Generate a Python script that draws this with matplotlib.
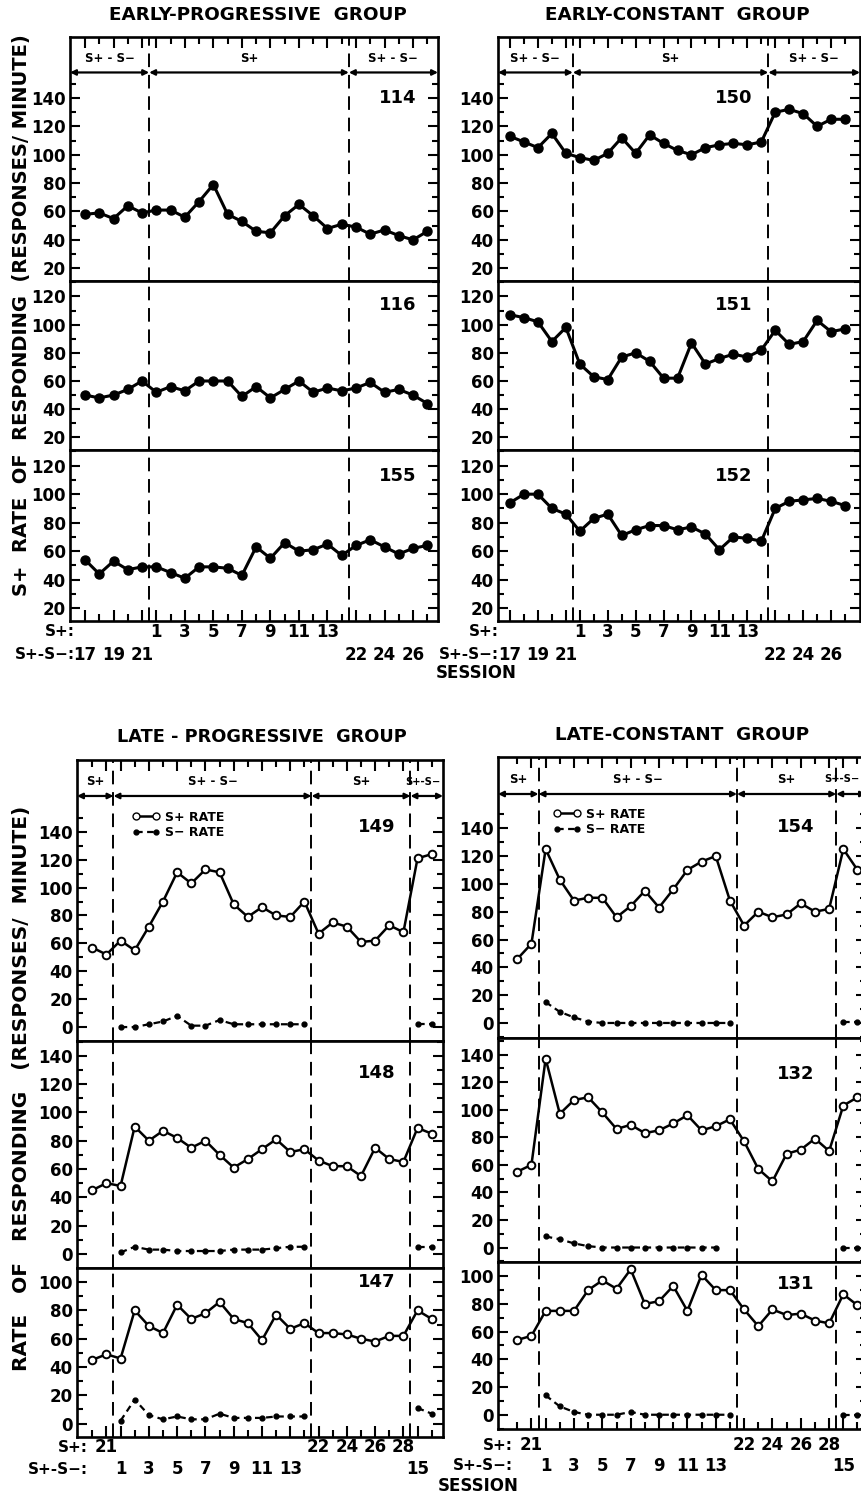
import numpy as np
import matplotlib.pyplot as plt
import matplotlib.transforms as mtransforms
from matplotlib.lines import Line2D
from matplotlib.ticker import FixedLocator

W, H = 862, 1496
plt.rcParams['font.family'] = ['DejaVu Sans']
plt.rcParams['font.weight'] = 'bold'

# early groups: S+-S- sessions 17-21, S+ sessions 1-14, back to S+-S- 22-27
early_sessions = [17, 18, 19, 20, 21, 1, 2, 3, 4, 5, 6, 7, 8, 9, 10, 11, 12, 13, 14,
                  22, 23, 24, 25, 26, 27]
early_phases = ["mix"] * 5 + ["sp"] * 14 + ["mix"] * 6
early_phase_labels = ["S+ - S−", "S+", "S+ - S−"]
early_sp_ticks = [1, 3, 5, 7, 9, 11, 13]
early_mix_ticks = [17, 19, 21, 22, 24, 26]

r114 = [58, 59, 55, 64, 59, 61, 61, 56, 67, 79, 58, 53, 46, 45, 57, 65, 57, 48, 51, 49, 44, 47, 43, 40, 46]
r116 = [50, 48, 50, 54, 60, 52, 56, 53, 60, 60, 60, 49, 56, 48, 54, 60, 52, 55, 53, 55, 59, 52, 54, 50, 44]
r155 = [54, 44, 53, 47, 49, 49, 45, 41, 49, 49, 48, 43, 63, 55, 66, 60, 61, 65, 57, 64, 68, 63, 58, 62, 64]
r150 = [113, 109, 105, 115, 101, 98, 96, 101, 112, 101, 114, 108, 103, 100, 105, 107, 108, 107, 109,
        130, 132, 129, 120, 125, 125]
r151 = [107, 105, 102, 88, 98, 72, 63, 61, 77, 80, 74, 62, 62, 87, 72, 76, 79, 77, 82, 96, 86, 88, 103, 95, 97]
r152 = [94, 100, 100, 90, 86, 74, 83, 86, 71, 75, 78, 78, 75, 77, 72, 61, 70, 69, 67, 90, 95, 96, 97, 95, 92]

# late groups: S+ 20-21, S+-S- 1-14, S+ 22-28, S+-S- 15-16
late_sessions = [20, 21, 1, 2, 3, 4, 5, 6, 7, 8, 9, 10, 11, 12, 13, 14,
                 22, 23, 24, 25, 26, 27, 28, 15, 16]
late_phases = ["sp"] * 2 + ["mix"] * 14 + ["sp"] * 7 + ["mix"] * 2
late_phase_labels = ["S+", "S+ - S−", "S+", "S+-S−"]
late_sp_ticks = [21, 22, 24, 26, 28]
late_mix_ticks = [1, 3, 5, 7, 9, 11, 13, 15]

# S+ rate for every session, S- rate only for the S+-S- sessions
p149 = [57, 52, 62, 55, 72, 90, 111, 103, 113, 111, 88, 79, 86, 80, 79, 90, 67, 75, 72, 61, 62, 73, 68, 121, 124]
m149 = [0, 0, 2, 4, 8, 1, 1, 5, 2, 2, 2, 2, 2, 2, 2, 2]
p148 = [45, 50, 48, 90, 80, 87, 82, 75, 80, 70, 61, 67, 74, 81, 72, 74, 66, 62, 62, 55, 75, 67, 65, 89, 85]
m148 = [1, 5, 3, 3, 2, 2, 2, 2, 3, 3, 3, 4, 5, 5, 5, 5]
p147 = [45, 49, 46, 80, 69, 64, 84, 74, 78, 86, 74, 71, 59, 77, 67, 71, 64, 64, 63, 60, 58, 62, 62, 80, 74]
m147 = [2, 17, 6, 3, 5, 3, 3, 7, 4, 4, 4, 5, 5, 5, 11, 7]

p154 = [46, 57, 125, 103, 88, 90, 90, 76, 84, 95, 83, 96, 110, 116, 120, 88, 70, 80, 76, 78, 86, 80, 82, 125, 110]
m154 = [15, 8, 4, 1, 0, 0, 0, 0, 0, 0, 0, 0, 0, 0, 1, 1]
p132 = [55, 60, 137, 97, 107, 109, 98, 86, 89, 83, 85, 90, 96, 85, 88, 93, 77, 57, 48, 68, 71, 79, 70, 103, 109]
m132 = [8, 6, 3, 1, 0, 0, 0, 0, 0, 0, 0, 0, 0, np.nan, 0, 0]
p131 = [54, 57, 75, 75, 75, 90, 97, 91, 105, 80, 82, 93, 75, 101, 90, 90, 76, 64, 76, 72, 73, 68, 66, 87, 79]
m131 = [14, 6, 2, 0, 0, 0, 2, 0, 0, 0, 0, 0, 0, 0, 0, 0]


def px_axes(fig, x0, y0, x1, y1):
    return fig.add_axes([x0 / W, 1 - y1 / H, (x1 - x0) / W, (y1 - y0) / H])


def find_pos(sessions, phases, phase, label):
    return next(i for i, (s, p) in enumerate(zip(sessions, phases)) if s == label and p == phase)


def runs(idx):
    # split a list of indices into consecutive stretches
    out, cur = [], [idx[0]]
    for i in idx[1:]:
        if i == cur[-1] + 1:
            cur.append(i)
        else:
            out.append(cur)
            cur = [i]
    out.append(cur)
    return out


def draw_block(fig, xr, edges, xlim, ylims, yticks, sessions, phases, phase_labels,
               sp_ticks, mix_ticks, panels, id_pos, arrow_y, rows, late):
    n = len(sessions)
    x = np.arange(n)
    dividers = [i - 0.5 for i in range(1, n) if phases[i] != phases[i - 1]]
    bounds = [xlim[0]] + dividers + [xlim[1]]
    # data x of the last column still inside the figure
    visible_right = xlim[0] + (min(xr[1], W) - xr[0]) / (xr[1] - xr[0]) * (xlim[1] - xlim[0])

    sp_pos = [find_pos(sessions, phases, "sp", lab) for lab in sp_ticks]
    mix_pos = [find_pos(sessions, phases, "mix", lab) for lab in mix_ticks]
    major = sorted(sp_pos + mix_pos)
    minor = [i for i in x if i not in major]
    mix_idx = [i for i in x if phases[i] == "mix"]

    axes = []
    for k, panel in enumerate(panels):
        last = k == len(panels) - 1
        ax = px_axes(fig, xr[0], edges[k], xr[1], edges[k + 1])
        ax.set_xlim(xlim)
        ax.set_ylim(ylims[k])
        for s in ax.spines.values():
            s.set_linewidth(1.9)
        ax.yaxis.set_major_locator(FixedLocator(yticks[k]))
        lo = yticks[k][0]
        ax.yaxis.set_minor_locator(FixedLocator(
            [v for v in range(lo - 10, 151, 10) if v not in yticks[k] and ylims[k][0] < v < ylims[k][1]]))
        ax.tick_params(axis='y', which='both', direction='in', left=True, right=True,
                       width=1.5, labelsize=12, pad=3)
        ax.tick_params(axis='y', which='major', length=7)
        ax.tick_params(axis='y', which='minor', length=4)
        ax.xaxis.set_major_locator(FixedLocator(major))
        ax.xaxis.set_minor_locator(FixedLocator(minor))
        ax.tick_params(axis='x', which='both', direction='in', width=1.5,
                       top=(k == 0), bottom=last, labelbottom=False)
        ax.tick_params(axis='x', which='major', length=8)
        ax.tick_params(axis='x', which='minor', length=5)
        for d in dividers:
            ax.axvline(d, color='k', lw=1.4, ls=(0, (7, 4)))

        name = panel[0]
        if late:
            ax.plot(x, panel[1], color='k', lw=1.8, marker='o', ms=5.5,
                    mfc='white', mec='k', mew=1.4, zorder=3)
            mvals = dict(zip(mix_idx, panel[2]))
            for run in runs(mix_idx):
                ax.plot(run, [mvals[i] for i in run], color='k', lw=1.6,
                        ls=(0, (3, 2)), marker='o', ms=3.5, zorder=3)
        else:
            ax.plot(x, panel[1], color='k', lw=2.2, marker='o', ms=6.5, zorder=3)
        ax.text(id_pos[k][0], id_pos[k][1], name, transform=ax.transAxes,
                ha='center', va='center', fontsize=13, fontweight='bold')

        if last:
            # two rows of session numbers: S+ sessions and S+-S- sessions
            tr = mtransforms.blended_transform_factory(ax.transData, fig.transFigure)
            for labs, pos, y in [(sp_ticks, sp_pos, rows[0]), (mix_ticks, mix_pos, rows[1])]:
                for lab, p in zip(labs, pos):
                    ax.text(p, 1 - y / H, str(lab), transform=tr, ha='center', va='center',
                            fontsize=12, fontweight='bold', clip_on=False)
        axes.append(ax)

    # phase header on the first panel
    ax = axes[0]
    top = ylims[0][1]
    label_y = arrow_y + 0.4 * (top - arrow_y)
    for j, (a, b, lab) in enumerate(zip(bounds[:-1], bounds[1:], phase_labels)):
        ax.annotate('', xy=(b, arrow_y), xytext=(a, arrow_y),
                    arrowprops=dict(arrowstyle='<|-|>', lw=1.6, color='k',
                                    shrinkA=0, shrinkB=0, mutation_scale=8))
        if late and j == len(phase_labels) - 1:
            # narrow final phase: squeeze the label against the right edge
            ax.text(min(b, visible_right) - 0.15, label_y, lab, ha='right', va='center',
                    fontsize=7.2, fontweight='bold')
        else:
            ax.text((a + b) / 2, label_y, lab, ha='center', va='center',
                    fontsize=8.5, fontweight='bold')
    if late:
        handles = [Line2D([], [], color='k', lw=1.8, marker='o', ms=5, mfc='white', mec='k'),
                   Line2D([], [], color='k', lw=1.6, ls=(0, (3, 2)), marker='o', ms=3.5)]
        ax.legend(handles, ["S+ RATE", "S− RATE"], loc='upper left',
                  bbox_to_anchor=(0.12, 0.86), frameon=False, numpoints=2,
                  handlelength=2.2, handletextpad=0.4, labelspacing=0.2,
                  prop=dict(size=9, weight='bold'))
    return axes


fig = plt.figure(figsize=(W / 100, H / 100), dpi=100)

early_ylims = [(11, 183), (11, 131), (11, 131)]
early_yticks = [[20, 40, 60, 80, 100, 120, 140], [20, 40, 60, 80, 100, 120], [20, 40, 60, 80, 100, 120]]
draw_block(fig, (70, 438), [37, 281, 450, 621], (-1.05, 24.75), early_ylims, early_yticks,
           early_sessions, early_phases, early_phase_labels, early_sp_ticks, early_mix_ticks,
           [("114", r114), ("116", r116), ("155", r155)],
           [(0.89, 0.75), (0.89, 0.86), (0.89, 0.85)], 158, (632, 655), late=False)
draw_block(fig, (498, 860), [37, 281, 450, 621], (-0.86, 25.07), early_ylims, early_yticks,
           early_sessions, early_phases, early_phase_labels, early_sp_ticks, early_mix_ticks,
           [("150", r150), ("151", r151), ("152", r152)],
           [(0.65, 0.75), (0.65, 0.86), (0.65, 0.85)], 158, (632, 655), late=False)

late_yticks = [[0, 20, 40, 60, 80, 100, 120, 140], [0, 20, 40, 60, 80, 100, 120, 140],
               [0, 20, 40, 60, 80, 100]]
draw_block(fig, (77, 443), [760, 1041, 1268, 1437], (-1.08, 24.8),
           [(-10, 191.5), (-10, 150.5), (-9.5, 110)], late_yticks,
           late_sessions, late_phases, late_phase_labels, late_sp_ticks, late_mix_ticks,
           [("149", p149, m149), ("148", p148, m148), ("147", p147, m147)],
           [(0.82, 0.76), (0.82, 0.86), (0.82, 0.915)], 165.7, (1447, 1469), late=True)
draw_block(fig, (498, 866), [757, 1038, 1262, 1429], (-1.36, 24.6),
           [(-10.8, 191.2), (-10.5, 152), (-10.3, 110.3)], late_yticks,
           late_sessions, late_phases, late_phase_labels, late_sp_ticks, late_mix_ticks,
           [("154", p154, m154), ("132", p132, m132), ("131", p131, m131)],
           [(0.81, 0.75), (0.81, 0.84), (0.81, 0.87)], 164.6, (1445, 1466), late=True)


def ftext(x, y, s, **kw):
    kw.setdefault('fontsize', 12)
    fig.text(x / W, 1 - y / H, s, fontweight='bold', **kw)


ftext(258, 15, "EARLY-PROGRESSIVE  GROUP", ha='center', va='center', fontsize=13.2)
ftext(677, 15, "EARLY-CONSTANT  GROUP", ha='center', va='center', fontsize=13.2)
ftext(262, 737, "LATE - PROGRESSIVE  GROUP", ha='center', va='center', fontsize=12.8)
ftext(682, 735, "LATE-CONSTANT  GROUP", ha='center', va='center', fontsize=13.2)
ftext(22, 315, "S+  RATE  OF  RESPONDING  (RESPONSES/ MINUTE)", rotation=90,
      ha='center', va='center', fontsize=14)
ftext(22, 1088, "RATE   OF   RESPONDING   (RESPONSES/  MINUTE)", rotation=90,
      ha='center', va='center', fontsize=14.5)

for xr, y1, y2 in [(75, 632, 655), (499, 632, 655), (88, 1447, 1469), (513, 1445, 1466)]:
    ftext(xr, y1, "S+:", ha='right', va='center', fontsize=11)
    ftext(xr, y2, "S+-S−:", ha='right', va='center', fontsize=11)
ftext(476, 673, "SESSION", ha='center', va='center', fontsize=12)
ftext(478, 1486, "SESSION", ha='center', va='center', fontsize=12)

fig.savefig("out.png", dpi=100)
